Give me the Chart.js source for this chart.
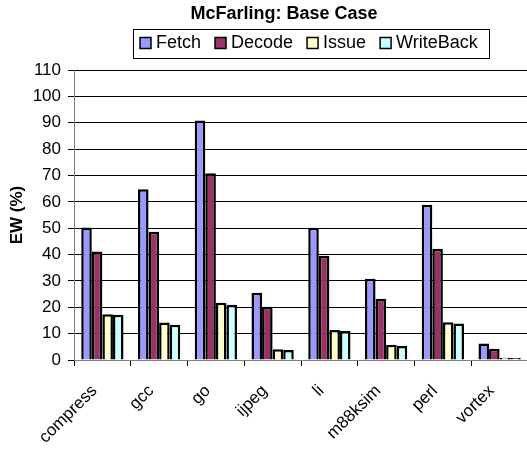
<!doctype html>
<html>
<head>
  <meta charset="utf-8">
  <style>
    html, body { margin: 0; padding: 0; background: #fff; overflow: hidden; }
    #chart { display: block; }
  </style>
</head>
<body>
  <canvas id="chart" width="570" height="453"></canvas>

  <script src="https://cdn.jsdelivr.net/npm/chart.js"></script>
  <script>
    // benchmark results, EW (%)
    var benchmarks = ['compress', 'gcc', 'go', 'ijpeg', 'li', 'm88ksim', 'perl', 'vortex'];
    var fetch_ew = [50.3, 64.8, 90.8, 25.5, 50.2, 30.8, 58.9, 6.3];
    var decode_ew = [41.2, 48.6, 70.8, 20.2, 39.5, 23.2, 42.2, 4.3];
    var issue_ew = [17.4, 14.2, 21.7, 4.1, 11.4, 5.8, 14.3, 0.9];
    var writeback_ew = [17.2, 13.4, 21.0, 3.8, 11.0, 5.3, 13.8, 0.8];
    var y_ticks = [0, 10, 20, 30, 40, 50, 60, 70, 80, 90, 100, 110];

    var FONT = '"Liberation Sans", Arial, sans-serif';

    // excel style legend inside a box under the title
    var boxLegend = {
      id: 'boxLegend',
      afterLayout: function (chart) {
        // centre the title over the whole canvas, not the padded area
        if (chart.titleBlock) {
          chart.titleBlock.left = 0;
          chart.titleBlock.right = 568;
        }
      },
      afterDraw: function (chart) {
        var ctx = chart.ctx;
        var x0 = 133, y0 = 29, w = 356, h = 29;
        ctx.save();
        ctx.strokeStyle = '#000';
        ctx.lineWidth = 1;
        ctx.strokeRect(x0 + 0.5, y0 + 0.5, w, h);
        ctx.font = '18px ' + FONT;
        ctx.textBaseline = 'middle';
        var x = x0 + 7;
        var cy = y0 + h / 2;
        chart.data.datasets.forEach(function (ds) {
          ctx.fillStyle = ds.backgroundColor;
          ctx.fillRect(x, cy - 6, 11, 11);
          ctx.lineWidth = 1.5;
          ctx.strokeRect(x, cy - 6, 11, 11);
          ctx.fillStyle = '#000';
          ctx.fillText(ds.label, x + 16, cy);
          x += 16 + ctx.measureText(ds.label).width + 14;
        });
        ctx.restore();
      }
    };

    var ctx = document.getElementById('chart').getContext('2d');
    var chart = new Chart(ctx, {
      type: 'bar',
      data: {
        labels: benchmarks,
        datasets: [
          { label: 'Fetch', data: fetch_ew, backgroundColor: '#9999FF' },
          { label: 'Decode', data: decode_ew, backgroundColor: '#993366' },
          { label: 'Issue', data: issue_ew, backgroundColor: '#FFFFCC' },
          { label: 'WriteBack', data: writeback_ew, backgroundColor: '#CCFFFF' }
        ]
      },
      options: {
        responsive: false,
        animation: false,
        devicePixelRatio: 1,
        layout: { padding: { left: 0, right: 42, top: 0, bottom: 0 } },
        datasets: {
          bar: {
            borderColor: '#000',
            borderWidth: 2.5,
            categoryPercentage: 0.745,
            barPercentage: 1
          }
        },
        plugins: {
          legend: { display: false },
          tooltip: { enabled: false },
          title: {
            display: true,
            text: 'McFarling: Base Case',
            color: '#000',
            font: { family: FONT, size: 18, weight: 'bold' },
            padding: { top: 3, bottom: 45.4 }
          }
        },
        scales: {
          x: {
            grid: { drawOnChartArea: false, color: '#000', tickLength: 6, offset: true },
            border: { color: '#808080', width: 1 },
            ticks: {
              color: '#000',
              font: { family: FONT, size: 17 },
              minRotation: 45,
              maxRotation: 45,
              padding: 15,
              labelOffset: -8
            },
            afterFit: function (scale) { scale.height = 93; }
          },
          y: {
            min: 0,
            max: 110,
            afterBuildTicks: function (scale) {
              scale.ticks = y_ticks.map(function (v) { return { value: v }; });
            },
            grid: { color: '#000', lineWidth: 1, tickLength: 6 },
            border: { color: '#808080', width: 1 },
            ticks: {
              color: '#000',
              font: { family: FONT, size: 17 },
              padding: 7
            },
            title: {
              display: true,
              text: 'EW (%)',
              color: '#000',
              font: { family: FONT, size: 17, weight: 'bold' },
              padding: { top: 7, bottom: 0 }
            },
            afterFit: function (scale) { scale.width = 74; }
          }
        }
      },
      plugins: [boxLegend]
    });
  </script>
</body>
</html>
